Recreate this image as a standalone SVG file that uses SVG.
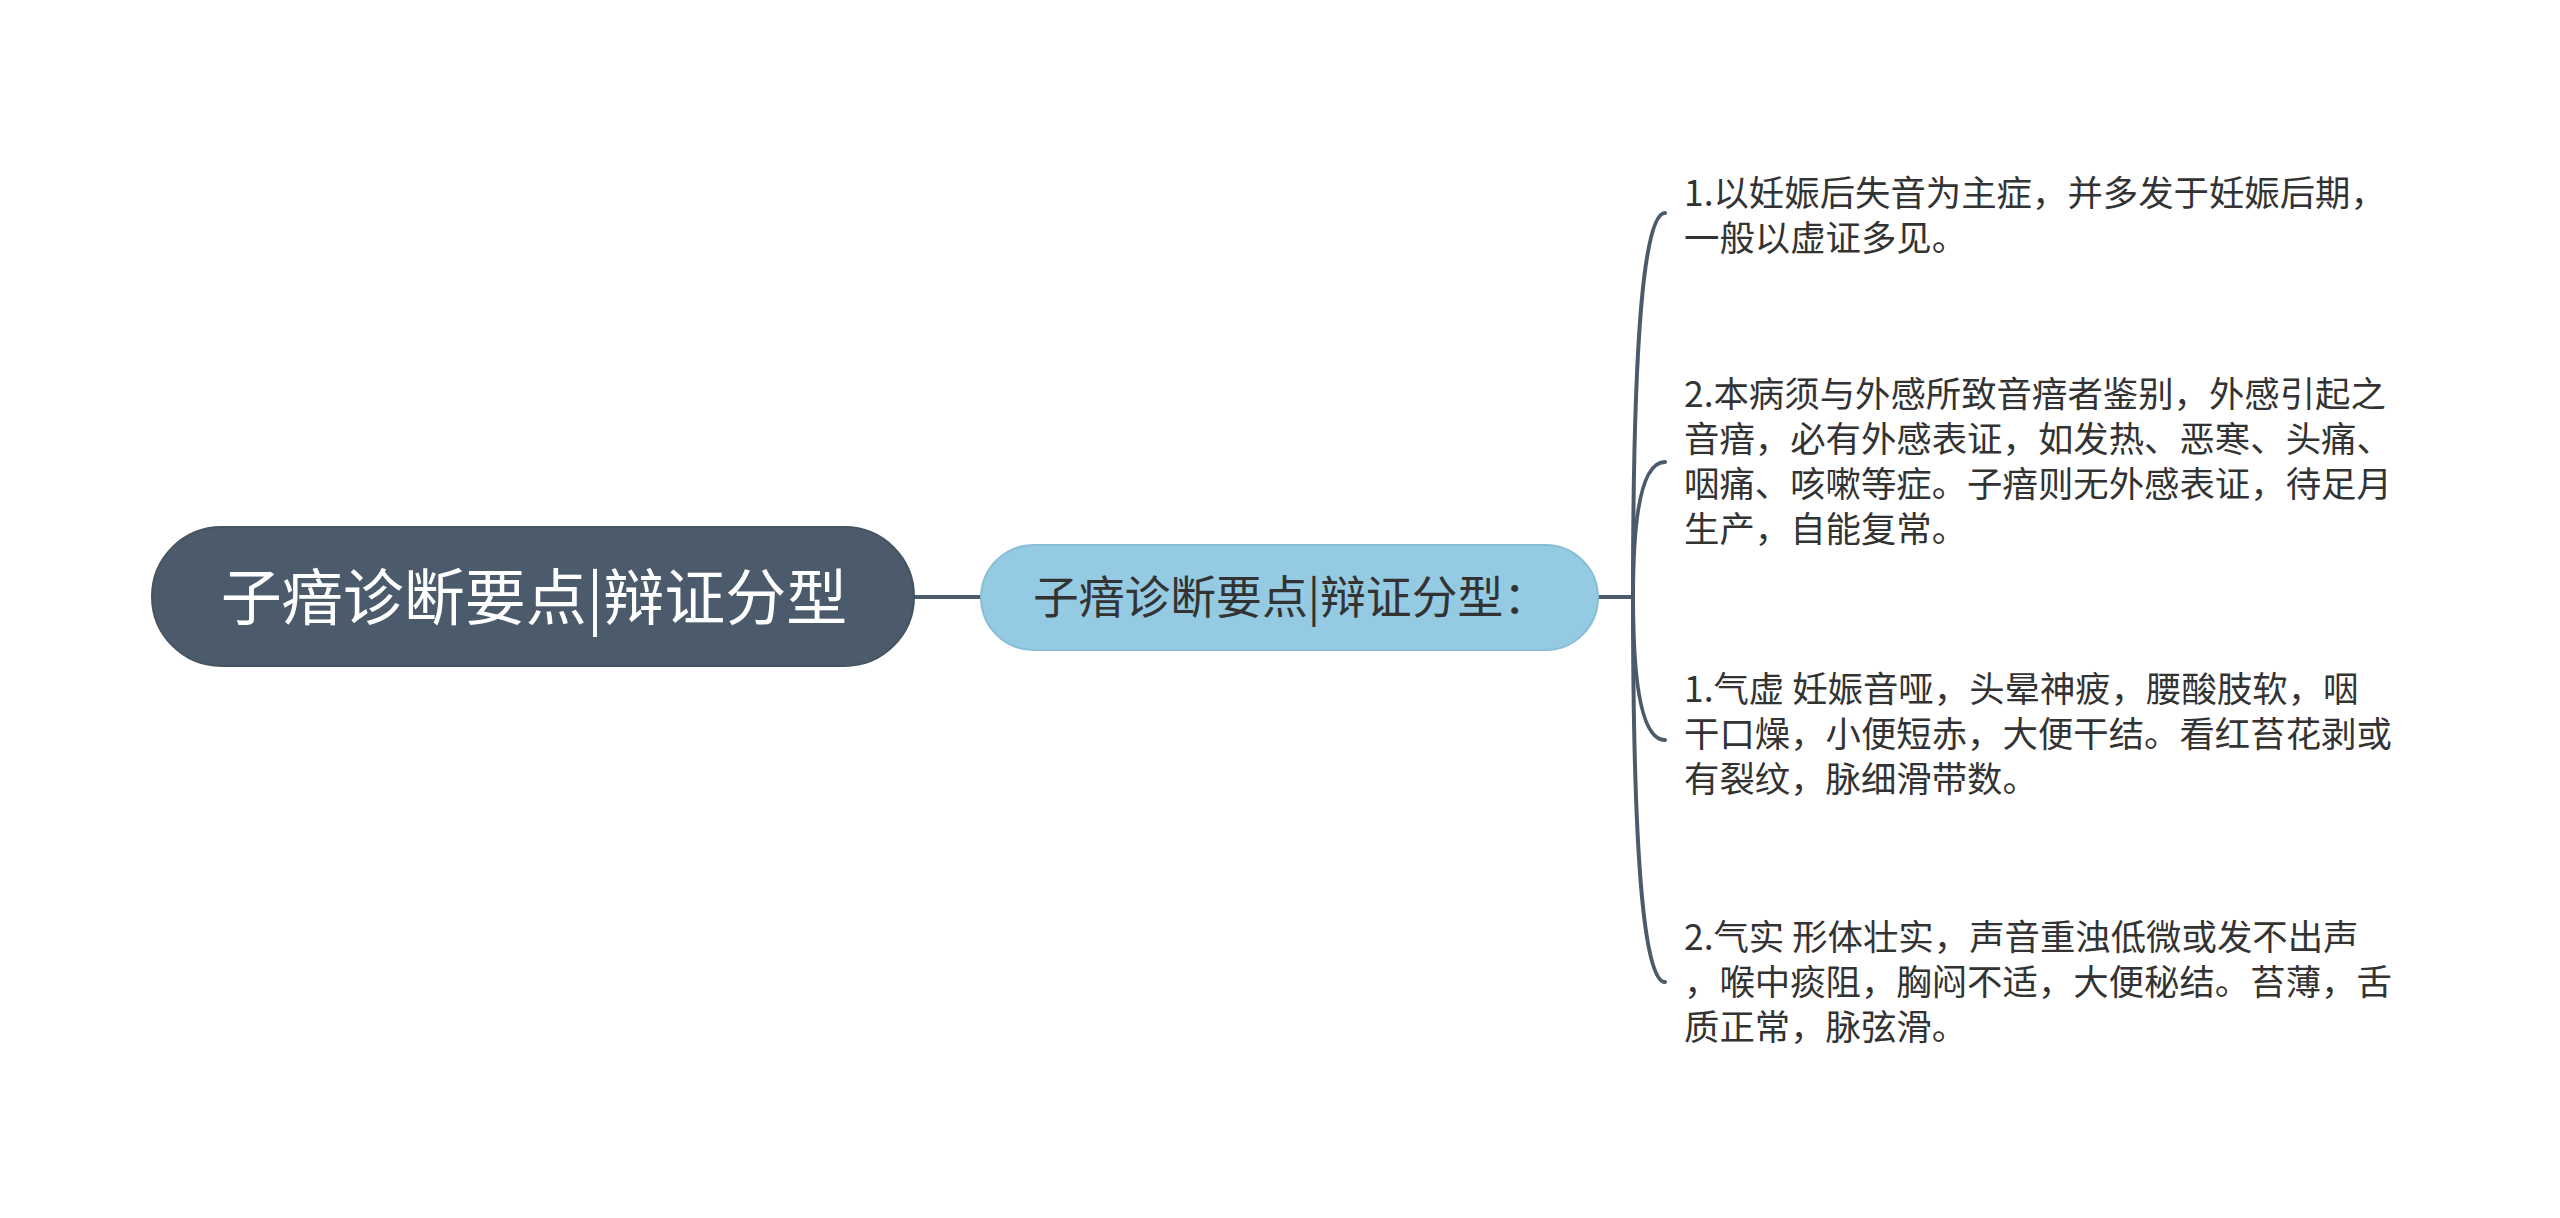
<svg xmlns="http://www.w3.org/2000/svg" width="2560" height="1218" viewBox="0 0 2560 1218">
  <style>
    .conn { fill: none; stroke: #4b5b6b; stroke-width: 4; stroke-linecap: round; }
    .t { font-family: "Noto Sans CJK SC", "Noto Sans", sans-serif; }
    .leaf { font-size: 35.4px; fill: #333333; }
  </style>
  <rect x="0" y="0" width="2560" height="1218" fill="#ffffff"/>
  <g id="connectors">
    <path class="conn" d="M914 597 L981 597"/>
    <path class="conn" d="M1598 597 L1633 597"/>
    <path class="conn" d="M1633 597 Q1633 213 1665 213"/>
    <path class="conn" d="M1633 597 Q1633 462 1665 462"/>
    <path class="conn" d="M1633 597 Q1633 740 1665 740"/>
    <path class="conn" d="M1633 597 Q1633 982 1665 982"/>
  </g>
  <g id="root">
    <rect x="152" y="527" width="762" height="139" rx="69.5" ry="69.5" fill="#4b5b6b" stroke="#46545f" stroke-width="2"/>
    <text class="t" x="534" y="620" font-size="61" fill="#ffffff" text-anchor="middle">子瘖诊断要点|辩证分型</text>
  </g>
  <g id="mid">
    <rect x="981" y="545" width="617" height="105" rx="52.5" ry="52.5" fill="#94cae2" stroke="#88bed6" stroke-width="2"/>
    <text class="t" x="1291" y="614" font-size="45.8" fill="#333333" text-anchor="middle">子瘖诊断要点|辩证分型：</text>
  </g>
  <g id="leaf1">
    <text class="t leaf" x="1684" y="206">1.以妊娠后失音为主症，并多发于妊娠后期，</text>
    <text class="t leaf" x="1684" y="251">一般以虚证多见。</text>
  </g>
  <g id="leaf2">
    <text class="t leaf" x="1684" y="407">2.本病须与外感所致音瘖者鉴别，外感引起之</text>
    <text class="t leaf" x="1684" y="452">音瘖，必有外感表证，如发热、恶寒、头痛、</text>
    <text class="t leaf" x="1684" y="497">咽痛、咳嗽等症。子瘖则无外感表证，待足月</text>
    <text class="t leaf" x="1684" y="542">生产，自能复常。</text>
  </g>
  <g id="leaf3">
    <text class="t leaf" x="1684" y="702">1.气虚 妊娠音哑，头晕神疲，腰酸肢软，咽</text>
    <text class="t leaf" x="1684" y="747">干口燥，小便短赤，大便干结。看红苔花剥或</text>
    <text class="t leaf" x="1684" y="792">有裂纹，脉细滑带数。</text>
  </g>
  <g id="leaf4">
    <text class="t leaf" x="1684" y="950">2.气实 形体壮实，声音重浊低微或发不出声</text>
    <text class="t leaf" x="1684" y="995">，喉中痰阻，胸闷不适，大便秘结。苔薄，舌</text>
    <text class="t leaf" x="1684" y="1040">质正常，脉弦滑。</text>
  </g>
</svg>
